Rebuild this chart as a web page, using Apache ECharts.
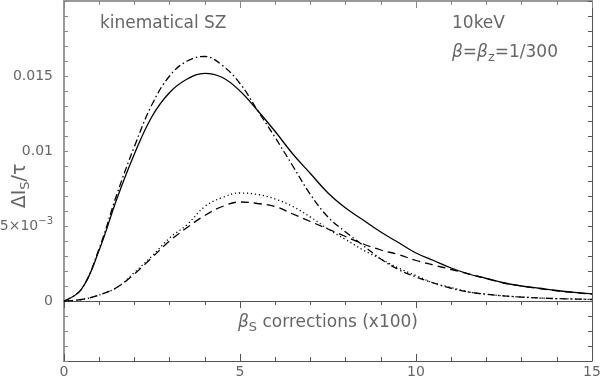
<!DOCTYPE html>
<html>
<head>
<meta charset="utf-8">
<script src="https://cdn.jsdelivr.net/npm/echarts@6/dist/echarts.min.js"></script>
<style>
  html, body { margin: 0; padding: 0; background: #fff; }
  #chart { width: 601px; height: 381px; }
</style>
</head>
<body>
<div id="chart"></div>
<script>
// x values (beta_S corrections x100)
const xs = [0, 0.5, 1, 1.5, 2, 2.5, 3, 3.5, 4, 4.5, 5, 5.5, 6, 6.5, 7, 7.5,
  8, 8.5, 9, 9.5, 10, 10.5, 11, 11.5, 12, 12.5, 13, 13.5, 14, 14.5, 15];

// curves
const solidY = [0, 0.0008, 0.0034, 0.0068, 0.0098, 0.0123, 0.0139, 0.0148, 0.01518, 0.0149,
  0.0140, 0.0127, 0.0113, 0.0098, 0.0085, 0.0072, 0.0062, 0.0054, 0.0046, 0.0039,
  0.0032, 0.0027, 0.0022, 0.0018, 0.0015, 0.0012, 0.0010, 0.00085, 0.0007, 0.00058, 0.00047];
const dashDotY = [0, 0.0008, 0.0035, 0.0071, 0.0103, 0.0131, 0.0150, 0.0160, 0.0163, 0.0157,
  0.0145, 0.0127, 0.0109, 0.0090, 0.0071, 0.0056, 0.0046, 0.0037, 0.0028, 0.0021,
  0.0016, 0.0012, 0.00085, 0.0006, 0.00045, 0.00034, 0.00026, 0.0002, 0.00016, 0.00013, 0.0001];
const dottedY = [0, 0.0001, 0.0004, 0.0009, 0.0019, 0.0030, 0.0042, 0.0051, 0.0063, 0.0069,
  0.0072, 0.0071, 0.0068, 0.0063, 0.0056, 0.0048, 0.0041, 0.0034, 0.0028, 0.0022,
  0.0017, 0.0012, 0.0009, 0.0006, 0.00045, 0.00034, 0.00027, 0.0002, 0.00016, 0.00013, 0.00011];
const dashedY = [0, 0.0001, 0.0004, 0.0009, 0.0018, 0.0029, 0.0040, 0.0049, 0.0057, 0.0063,
  0.0066, 0.0065, 0.0063, 0.0058, 0.0053, 0.0048, 0.0043, 0.0038, 0.0034, 0.0031,
  0.0027, 0.0024, 0.0021, 0.0018, 0.0015, 0.0012, 0.0010, 0.00083, 0.00068, 0.00056, 0.00045];

const xLabels = { 0: '0', 5: '5', 10: '10', 15: '15' };
const yLabels = { 0: '0', 5: '{m|5×10}{sup|−3}', 10: '0.01', 15: '0.015' };

const font = '"DejaVu Sans", sans-serif';
const textGray = '#666';

const pairs = ys => xs.map((x, i) => [x, ys[i]]);

const chart = echarts.init(document.getElementById('chart'));

function xAxisBase(extra) {
  return Object.assign({
    type: 'value', min: 0, max: 15, interval: 5,
    splitLine: { show: false },
    axisLabel: { show: false },
    minorTick: { show: true, splitNumber: 5, length: 4, lineStyle: { color: '#555' } },
    axisTick: { show: true, length: 7, lineStyle: { color: '#555' } },
    axisLine: { onZero: false, lineStyle: { color: '#555', width: 1 } }
  }, extra);
}

function lineSeries(name, ys, type) {
  return {
    name: name, type: 'line', data: pairs(ys), smooth: 0.4,
    showSymbol: false, symbol: 'none', silent: true,
    lineStyle: { color: '#000', width: 1.3, type: type }
  };
}

chart.setOption({
  animation: false,
  textStyle: { fontFamily: font },
  grid: { left: 64, right: 9, top: 1, bottom: 20, containLabel: false, outerBoundsMode: 'none' },
  xAxis: [
    // bottom frame with labels
    xAxisBase({
      position: 'bottom',
      axisTick: { show: true, inside: true, length: 7, lineStyle: { color: '#555' } },
      minorTick: { show: true, splitNumber: 5, length: 4, lineStyle: { color: '#555' } },
      axisLabel: {
        show: true, margin: 4, color: textGray, fontSize: 14, fontFamily: font,
        formatter: v => xLabels[Math.round(v)] || ''
      }
    }),
    // top frame
    xAxisBase({
      position: 'top',
      axisTick: { show: true, inside: true, length: 7, lineStyle: { color: '#888' } },
      minorTick: { show: true, splitNumber: 5, length: 4, lineStyle: { color: '#888' } },
      axisLine: { onZero: false, lineStyle: { color: '#999', width: 2 } }
    }),
    // line at y = 0
    xAxisBase({ position: 'bottom', offset: -60 })
  ],
  yAxis: [
    {
      type: 'value', position: 'left', min: -0.004, max: 0.02, interval: 0.001,
      splitLine: { show: false },
      axisLine: { onZero: false, lineStyle: { color: '#999', width: 2 } },
      axisTick: { inside: true, length: 4, lineStyle: { color: '#888' } },
      axisLabel: {
        margin: 11, color: textGray, fontSize: 14, fontFamily: font,
        formatter: v => {
          const k = Math.round(v * 1000);
          return yLabels[k] !== undefined ? yLabels[k] : '';
        },
        rich: {
          m: { fontSize: 14, color: textGray, fontFamily: font },
          sup: { fontSize: 10, verticalAlign: 'bottom', padding: [0, 0, 10, 0], color: textGray }
        }
      }
    },
    {
      type: 'value', position: 'right', min: -0.004, max: 0.02, interval: 0.001,
      splitLine: { show: false },
      axisLine: { onZero: false, lineStyle: { color: '#555', width: 1 } },
      axisTick: { inside: true, length: 4, lineStyle: { color: '#555' } },
      axisLabel: { show: false }
    }
  ],
  graphic: [
    {
      type: 'text', x: 20, y: 186, rotation: Math.PI / 2,
      style: {
        text: '{n|ΔI}{s|S}{n|/τ}', align: 'center', verticalAlign: 'middle',
        fill: textGray, fontFamily: font,
        rich: {
          n: { fontSize: 19, fill: textGray, fontFamily: font },
          s: { fontSize: 13, fill: textGray, fontFamily: font, padding: [11, 0, 0, 0] }
        }
      }
    },
    {
      type: 'text', left: 100, top: 15,
      style: { text: 'kinematical SZ', fontSize: 17, fill: textGray, fontFamily: font }
    },
    {
      type: 'text', left: 452, top: 15,
      style: { text: '10keV', fontSize: 17, fill: textGray, fontFamily: font }
    },
    {
      type: 'text', left: 452, top: 44,
      style: {
        text: '{b|β}={b|β}{s|z}=1/300', fontSize: 17, fill: textGray, fontFamily: font,
        rich: {
          b: { fontSize: 17, fontStyle: 'italic', fill: textGray, fontFamily: font },
          s: { fontSize: 13, fill: textGray, fontFamily: font, padding: [11, 0, 0, 0] }
        }
      }
    },
    {
      type: 'text', left: 238, top: 314,
      style: {
        text: '{b|β}{s|S} corrections (x100)', fontSize: 17, fill: textGray, fontFamily: font,
        rich: {
          b: { fontSize: 17, fontStyle: 'italic', fill: textGray, fontFamily: font },
          s: { fontSize: 13, fill: textGray, fontFamily: font, padding: [11, 0, 0, 0] }
        }
      }
    }
  ],
  series: [
    lineSeries('solid', solidY, 'solid'),
    lineSeries('dash-dot', dashDotY, [7, 3, 1.5, 3]),
    lineSeries('dotted', dottedY, [1.2, 2.8]),
    lineSeries('dashed', dashedY, [8, 5])
  ]
});
</script>
</body>
</html>
